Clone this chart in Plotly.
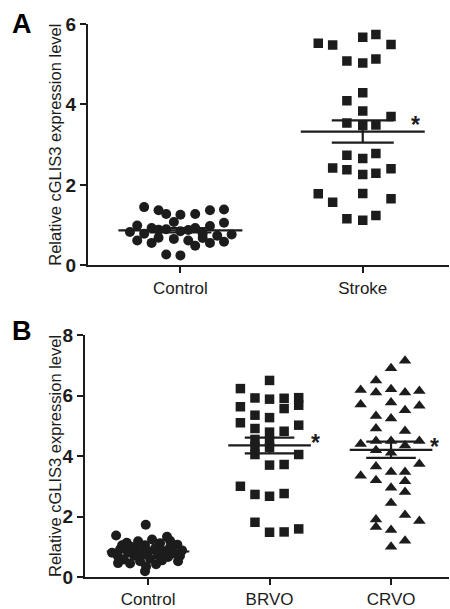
import numpy as np
import plotly.graph_objects as go

# ---------------- Panel A data ----------------
a_categories = ["Control", "Stroke"]
a_control_x = [-0.199, -0.12, -0.078, 0.0, 0.081, 0.162, 0.239, -0.237, -0.158, -0.036, 0.239,
               -0.277, -0.199, -0.12, -0.078, 0.043, 0.081, 0.162, 0.122, 0.202, 0.281,
               -0.237, -0.158, -0.12, -0.036, 0.043, 0.081, 0.122, 0.162, 0.239, -0.078, 0.0, 0.0]
a_control_y = [1.45, 1.37, 1.28, 1.26, 1.28, 1.37, 1.39, 0.99, 0.93, 1.08, 1.06,
               0.83, 0.79, 0.89, 0.90, 0.88, 0.93, 0.98, 0.79, 0.74, 0.77,
               0.62, 0.56, 0.69, 0.66, 0.62, 0.49, 0.68, 0.56, 0.59, 0.27, 0.25, 0.85]
a_stroke_x = [-0.244, -0.165, 0.0, 0.072, 0.155, -0.087, 0.0, 0.072, 0.0, -0.087, 0.0, 0.155,
              -0.087, 0.0, 0.072, -0.087, 0.0, 0.072, -0.165, -0.087, 0.0, 0.072, 0.155,
              -0.244, -0.165, 0.0, 0.155, -0.087, 0.0, 0.072]
a_stroke_y = [5.52, 5.48, 5.67, 5.74, 5.49, 5.08, 5.03, 5.13, 4.29, 4.09, 3.84, 3.70,
              3.54, 3.48, 3.49, 2.74, 2.66, 2.78, 2.42, 2.38, 2.26, 2.29, 2.40,
              1.78, 1.57, 1.79, 1.66, 1.16, 1.12, 1.24]
a_yticks = [0, 2, 4, 6]

# ---------------- Panel B data ----------------
b_categories = ["Control", "BRVO", "CRVO"]
b_control_x = [-0.019, -0.263, 0.156, -0.175, 0.033, 0.241, -0.082, 0.099, -0.14, -0.025, 0.181,
               -0.23, -0.09, 0.058, 0.123, 0.28, -0.296, -0.165, 0.0, 0.214, -0.247, -0.115,
               -0.049, 0.082, 0.165, 0.263, -0.198, 0.016, 0.115, -0.066, -0.247, -0.148,
               0.066, 0.247, -0.016, -0.025, 0.181, -0.214]
b_control_y = [1.73, 1.37, 1.33, 1.13, 1.24, 1.07, 1.18, 1.12, 1.00, 1.05, 0.98,
               0.92, 0.90, 0.95, 0.86, 0.88, 0.80, 0.82, 0.84, 0.78, 0.68, 0.70,
               0.74, 0.72, 0.66, 0.70, 0.58, 0.60, 0.55, 0.52, 0.46, 0.45,
               0.42, 0.52, 0.35, 0.19, 1.20, 1.05]
b_brvo_x = [0.0, -0.24, -0.12, 0.0, 0.12, 0.24, 0.24, -0.24, 0.12, -0.12, 0.0, -0.24, 0.24,
            -0.12, 0.0, 0.12, -0.12, 0.0, -0.12, 0.0, -0.12, 0.24, 0.0, 0.12,
            -0.24, -0.12, 0.0, 0.12, -0.12, 0.0, 0.12, 0.24]
b_brvo_y = [6.50, 6.23, 5.92, 5.88, 5.91, 5.93, 5.68, 5.63, 5.57, 5.35, 5.27, 5.10, 5.02,
            4.91, 4.79, 4.82, 4.55, 4.50, 4.31, 4.28, 4.05, 4.05, 3.70, 3.72,
            3.00, 2.73, 2.67, 2.76, 1.81, 1.48, 1.49, 1.59]
b_crvo_x = [0.115, 0.0, -0.124, -0.25, -0.124, 0.0, 0.115, 0.233, -0.25, 0.0, 0.115, 0.233,
            -0.124, 0.0, -0.124, 0.115, -0.25, -0.124, 0.0, 0.115, 0.233, -0.124, 0.0,
            0.233, -0.124, 0.0, 0.115, -0.25, -0.124, 0.115, 0.0, 0.115, 0.0, 0.115,
            0.233, -0.124, -0.124, 0.0, 0.115, 0.0]
b_crvo_y = [7.15, 6.90, 6.50, 6.18, 6.10, 6.21, 6.10, 6.15, 5.70, 5.77, 5.51, 5.66,
            5.32, 5.24, 4.91, 4.83, 4.40, 4.50, 4.50, 4.35, 4.50, 4.19, 4.11,
            3.74, 3.65, 3.47, 3.47, 3.35, 3.20, 3.17, 2.95, 2.81, 2.45, 2.05,
            1.85, 1.90, 1.65, 1.55, 1.20, 1.00]
b_yticks = [0, 2, 4, 6, 8]

INK = "#1c1c1c"
FONT = "Liberation Sans, Arial, sans-serif"
MEAN_HALF = 0.34
CAP_HALF = 0.17

fig = go.Figure()


def add_group(cat_index, xoff, yvals, symbol, size, xa, ya, cap_half):
    xs = [cat_index + o for o in xoff]
    fig.add_trace(go.Scatter(x=xs, y=yvals, mode="markers", xaxis=xa, yaxis=ya,
                             marker=dict(symbol=symbol, size=size, color=INK,
                                         line=dict(width=0)),
                             showlegend=False, hoverinfo="y"))
    arr = np.array(yvals)
    m = arr.mean()
    sem = arr.std(ddof=1) / np.sqrt(len(arr))
    lx = [cat_index - MEAN_HALF, cat_index + MEAN_HALF, None,
          cat_index, cat_index, None,
          cat_index - cap_half, cat_index + cap_half, None,
          cat_index - cap_half, cat_index + cap_half]
    ly = [m, m, None, m - sem, m + sem, None, m + sem, m + sem, None, m - sem, m - sem]
    fig.add_trace(go.Scatter(x=lx, y=ly, mode="lines", xaxis=xa, yaxis=ya,
                             line=dict(color=INK, width=2.2), showlegend=False,
                             hoverinfo="skip"))
    return m, sem


add_group(0, a_control_x, a_control_y, "circle", 10, "x", "y", CAP_HALF)
ma, sa = add_group(1, a_stroke_x, a_stroke_y, "square", 9.5, "x", "y", CAP_HALF)
add_group(0, b_control_x, b_control_y, "circle", 10, "x2", "y2", CAP_HALF * 1.2)
mb, sb = add_group(1, b_brvo_x, b_brvo_y, "square", 9.5, "x2", "y2", CAP_HALF * 1.2)
mc, sc = add_group(2, b_crvo_x, b_crvo_y, "triangle-up", 11, "x2", "y2", CAP_HALF * 1.2)

axis_common = dict(showline=True, linecolor=INK, linewidth=2, showgrid=False, zeroline=False,
                   ticks="outside", ticklen=6, tickwidth=2, tickcolor=INK, mirror=False)

fig.update_layout(
    width=450, height=609,
    margin=dict(l=85, r=1, t=23.5, b=31.7),
    paper_bgcolor="white", plot_bgcolor="white",
    xaxis=dict(domain=[0.0082, 1], range=[-0.507, 1.473], tickvals=[0, 1], ticktext=a_categories,
               tickfont=dict(family=FONT, size=17, color=INK), anchor="y", **axis_common),
    yaxis=dict(domain=[0.5634, 1], range=[0, 6], tickvals=a_yticks, anchor="x",
               tickfont=dict(family=FONT, size=19, color=INK, weight="bold"), **axis_common),
    xaxis2=dict(domain=[0, 1], range=[-0.519, 2.477], tickvals=[0, 1, 2], ticktext=b_categories,
                tickfont=dict(family=FONT, size=17, color=INK), anchor="y2", **axis_common),
    yaxis2=dict(domain=[0, 0.4375], range=[0, 8], tickvals=b_yticks, anchor="x2",
                tickfont=dict(family=FONT, size=19, color=INK, weight="bold"), **axis_common),
)

ytitle = "Relative cGLIS3 expression level"
title_x = (55 - 85) / 364
fig.add_annotation(text=ytitle, textangle=-90, xref="paper", yref="y domain", x=title_x, y=0.5,
                   showarrow=False, font=dict(family=FONT, size=16.5, color=INK),
                   xanchor="center", yanchor="middle")
fig.add_annotation(text=ytitle, textangle=-90, xref="paper", yref="y2 domain", x=title_x, y=0.5,
                   showarrow=False, font=dict(family=FONT, size=16.5, color=INK),
                   xanchor="center", yanchor="middle")

# panel letters
fig.add_annotation(text="<b>A</b>", xref="paper", yref="y domain", x=(22 - 85) / 364, y=1.0,
                   showarrow=False, font=dict(family=FONT, size=27, color="black"),
                   xanchor="center", yanchor="middle")
fig.add_annotation(text="<b>B</b>", xref="paper", yref="y2 domain", x=(22 - 85) / 364, y=1.015,
                   showarrow=False, font=dict(family=FONT, size=27, color="black"),
                   xanchor="center", yanchor="middle")

# significance stars
for xa, ya, xx, yy in [("x", "y", 1.29, ma + sa), ("x2", "y2", 1.38, mb + sb),
                       ("x2", "y2", 2.36, mc + sc)]:
    fig.add_annotation(text="<b>*</b>", xref=xa, yref=ya, x=xx, y=yy, showarrow=False,
                       font=dict(family=FONT, size=23, color=INK), xanchor="center",
                       yanchor="middle", yshift=-5)

fig.write_html("out.html", config={"displayModeBar": False},
               post_script="document.body.style.margin='0';document.body.style.overflow='hidden';")
